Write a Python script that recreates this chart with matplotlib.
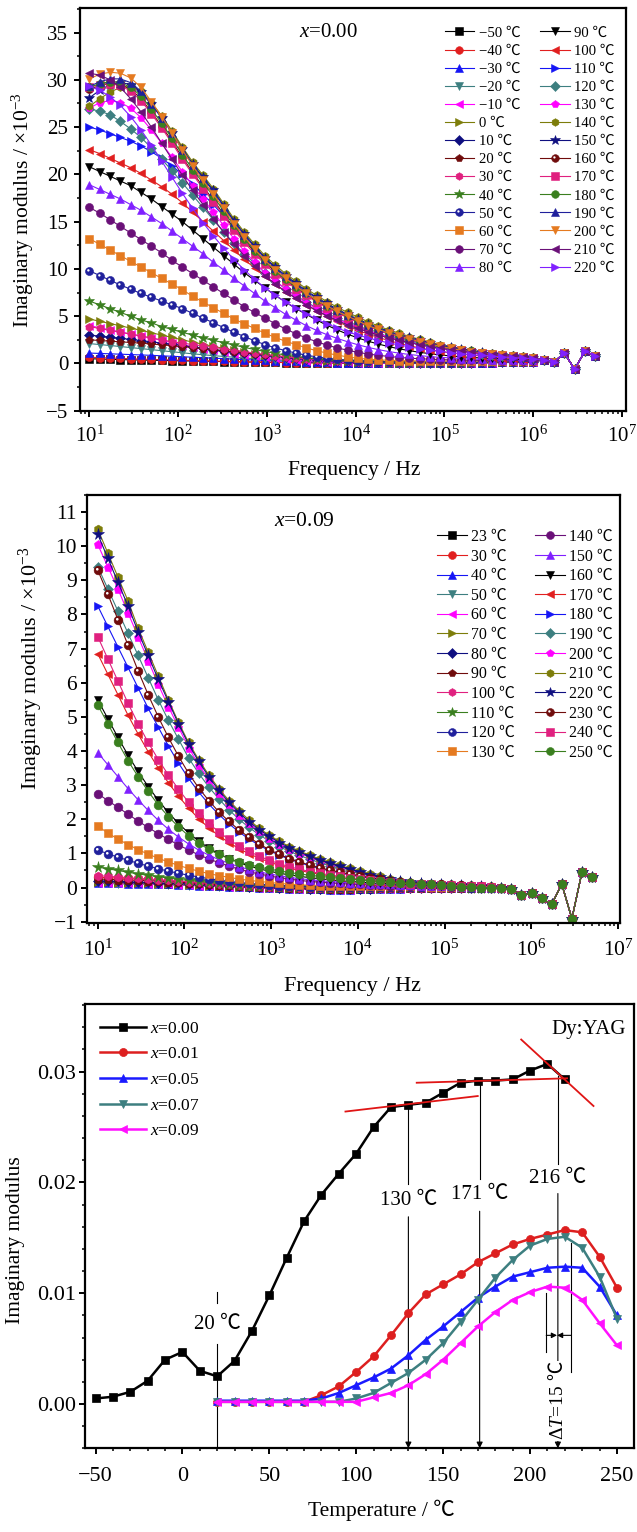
import numpy as np
import matplotlib
matplotlib.use('Agg')
import matplotlib.pyplot as plt
from matplotlib.path import Path
from matplotlib.ticker import MultipleLocator, FormatStrFormatter, FixedLocator, NullFormatter, LogFormatterSciNotation

plt.rcParams['font.family'] = ['Liberation Serif', 'Noto Sans CJK SC']
plt.rcParams['mathtext.fontset'] = 'custom'
plt.rcParams['mathtext.rm'] = 'Liberation Serif'
plt.rcParams['mathtext.it'] = 'Liberation Serif:italic'
plt.rcParams['axes.unicode_minus'] = True

# ---------------- data: frequency sweep ----------------
freq = [10.0, 13.07, 17.08, 22.33, 29.19, 38.15, 49.87, 65.18, 85.2, 111.4,
        145.6, 190.3, 248.7, 325.1, 424.9, 555.4, 726.0, 948.9, 1240, 1621,
        2119, 2770, 3621, 4733, 6186, 8086, 10570, 13820, 18060, 23600,
        30850, 40330, 52710, 68900, 90060, 117700, 153900, 201100, 262900, 343600,
        449200, 587100, 767400, 1003000, 1311000, 1714000, 2240000, 2928000, 3827000, 5000000]

# ---------------- panel 1: x=0.00 (values x10^-3) ----------------
temps1 = [-50, -40, -30, -20, -10, 0, 10, 20, 30, 40, 50, 60, 70, 80,
          90, 100, 110, 120, 130, 140, 150, 160, 170, 180, 190, 200, 210, 220]
tail1 = [0.4, 0.15, 1.1, -0.6, 1.3, 0.75]
p1_m50 = [0.5, 0.47, 0.44, 0.41, 0.38, 0.36, 0.34, 0.32, 0.3, 0.28, 0.26, 0.24, 0.22, 0.2, 0.18, 0.16, 0.14, 0.12, 0.11, 0.1, 0.09, 0.08, 0.07, 0.06, 0.05, 0.04, 0.03, 0.03, 0.02, 0.02, 0.02, 0.02, 0.02, 0.02, 0.02, 0.03, 0.04, 0.05, 0.07, 0.09, 0.11, 0.13, 0.15, 0.17]
p1_m40 = [0.66, 0.62, 0.58, 0.54, 0.5, 0.46, 0.43, 0.4, 0.37, 0.34, 0.31, 0.28, 0.25, 0.22, 0.2, 0.18, 0.16, 0.14, 0.12, 0.1, 0.09, 0.08, 0.07, 0.06, 0.05, 0.04, 0.03, 0.03, 0.02, 0.02, 0.02, 0.02, 0.02, 0.02, 0.02, 0.03, 0.04, 0.05, 0.07, 0.09, 0.11, 0.13, 0.15, 0.17]
p1_m30 = [1.1, 1.06, 1.02, 0.98, 0.94, 0.9, 0.86, 0.81, 0.76, 0.71, 0.66, 0.61, 0.56, 0.51, 0.46, 0.41, 0.36, 0.32, 0.28, 0.24, 0.21, 0.18, 0.15, 0.12, 0.1, 0.08, 0.06, 0.05, 0.04, 0.03, 0.02, 0.02, 0.02, 0.02, 0.02, 0.03, 0.04, 0.05, 0.07, 0.09, 0.11, 0.13, 0.15, 0.17]
p1_m20 = [2.1, 2.0, 1.9, 1.79, 1.68, 1.57, 1.46, 1.35, 1.24, 1.13, 1.02, 0.92, 0.83, 0.74, 0.66, 0.58, 0.51, 0.45, 0.39, 0.34, 0.29, 0.25, 0.21, 0.18, 0.15, 0.12, 0.1, 0.08, 0.07, 0.06, 0.05, 0.04, 0.04, 0.04, 0.04, 0.05, 0.06, 0.07, 0.08, 0.1, 0.12, 0.14, 0.16, 0.18]
p1_m10 = [4.0, 3.78, 3.56, 3.34, 3.12, 2.9, 2.67, 2.44, 2.21, 1.99, 1.78, 1.58, 1.39, 1.21, 1.04, 0.89, 0.76, 0.64, 0.53, 0.44, 0.36, 0.29, 0.23, 0.18, 0.14, 0.11, 0.09, 0.07, 0.06, 0.05, 0.04, 0.04, 0.04, 0.04, 0.04, 0.05, 0.06, 0.07, 0.08, 0.1, 0.12, 0.14, 0.16, 0.18]
p1_0 = [4.7, 4.46, 4.22, 3.98, 3.74, 3.5, 3.25, 3.0, 2.75, 2.5, 2.26, 2.03, 1.81, 1.6, 1.4, 1.22, 1.05, 0.9, 0.77, 0.65, 0.55, 0.46, 0.38, 0.31, 0.26, 0.21, 0.17, 0.14, 0.12, 0.1, 0.09, 0.08, 0.08, 0.08, 0.08, 0.08, 0.09, 0.1, 0.11, 0.12, 0.14, 0.16, 0.18, 0.2]
p1_10 = [3.0, 2.89, 2.78, 2.66, 2.54, 2.42, 2.29, 2.16, 2.03, 1.89, 1.75, 1.61, 1.47, 1.34, 1.21, 1.08, 0.96, 0.85, 0.74, 0.64, 0.55, 0.47, 0.4, 0.34, 0.28, 0.23, 0.19, 0.16, 0.13, 0.11, 0.1, 0.09, 0.08, 0.08, 0.08, 0.08, 0.09, 0.1, 0.11, 0.12, 0.14, 0.16, 0.18, 0.2]
p1_20 = [2.5, 2.43, 2.36, 2.29, 2.22, 2.14, 2.06, 1.97, 1.88, 1.78, 1.68, 1.57, 1.46, 1.35, 1.24, 1.13, 1.02, 0.91, 0.81, 0.72, 0.63, 0.55, 0.48, 0.42, 0.36, 0.31, 0.27, 0.23, 0.2, 0.18, 0.16, 0.14, 0.13, 0.12, 0.11, 0.11, 0.11, 0.12, 0.13, 0.14, 0.15, 0.17, 0.19, 0.2]
p1_30 = [3.9, 3.7, 3.5, 3.3, 3.1, 2.9, 2.7, 2.5, 2.3, 2.15, 2.0, 1.85, 1.7, 1.55, 1.4, 1.25, 1.1, 0.95, 0.82, 0.7, 0.59, 0.49, 0.4, 0.33, 0.27, 0.22, 0.18, 0.15, 0.12, 0.1, 0.09, 0.08, 0.08, 0.08, 0.08, 0.08, 0.09, 0.1, 0.11, 0.12, 0.14, 0.16, 0.18, 0.2]
p1_40 = [6.6, 6.2, 5.8, 5.4, 5.0, 4.6, 4.3, 3.9, 3.6, 3.3, 3.0, 2.7, 2.45, 2.2, 1.95, 1.7, 1.48, 1.27, 1.07, 0.89, 0.74, 0.6, 0.48, 0.38, 0.3, 0.24, 0.19, 0.15, 0.12, 0.1, 0.09, 0.08, 0.08, 0.08, 0.08, 0.09, 0.1, 0.11, 0.12, 0.14, 0.16, 0.18, 0.2, 0.22]
p1_50 = [9.8, 9.3, 8.8, 8.3, 7.85, 7.4, 7.0, 6.6, 6.2, 5.8, 5.3, 4.8, 4.3, 3.8, 3.3, 2.85, 2.4, 2.0, 1.65, 1.35, 1.1, 0.88, 0.7, 0.55, 0.43, 0.34, 0.27, 0.22, 0.18, 0.15, 0.13, 0.12, 0.11, 0.1, 0.1, 0.1, 0.11, 0.12, 0.13, 0.15, 0.17, 0.19, 0.21, 0.23]
p1_60 = [13.2, 12.6, 12.0, 11.4, 10.8, 10.2, 9.6, 9.0, 8.4, 7.8, 7.1, 6.5, 5.9, 5.3, 4.7, 4.2, 3.7, 3.2, 2.75, 2.35, 2.0, 1.65, 1.35, 1.1, 0.88, 0.7, 0.55, 0.45, 0.38, 0.33, 0.3, 0.28, 0.27, 0.26, 0.26, 0.26, 0.26, 0.27, 0.27, 0.28, 0.28, 0.29, 0.29, 0.3]
p1_70 = [16.5, 15.9, 15.2, 14.5, 13.8, 13.1, 12.4, 11.7, 10.9, 10.2, 9.5, 8.8, 8.1, 7.4, 6.7, 6.0, 5.4, 4.8, 4.2, 3.65, 3.15, 2.7, 2.3, 1.95, 1.65, 1.4, 1.18, 1.0, 0.86, 0.74, 0.64, 0.56, 0.5, 0.45, 0.41, 0.38, 0.36, 0.34, 0.33, 0.32, 0.31, 0.3, 0.3, 0.3]
p1_80 = [18.9, 18.4, 17.9, 17.4, 16.8, 16.2, 15.5, 14.8, 14.0, 13.2, 12.4, 11.6, 10.7, 9.9, 9.0, 8.2, 7.4, 6.6, 5.9, 5.2, 4.6, 4.0, 3.5, 3.05, 2.65, 2.3, 1.98, 1.7, 1.46, 1.26, 1.09, 0.95, 0.83, 0.73, 0.65, 0.58, 0.52, 0.47, 0.43, 0.4, 0.38, 0.36, 0.34, 0.33]
p1_90 = [20.8, 20.3, 19.8, 19.3, 18.8, 18.1, 17.4, 16.6, 15.8, 15.0, 14.1, 13.2, 12.3, 11.4, 10.5, 9.6, 8.8, 8.0, 7.2, 6.5, 5.8, 5.2, 4.6, 4.05, 3.55, 3.1, 2.7, 2.35, 2.05, 1.78, 1.55, 1.35, 1.18, 1.03, 0.9, 0.8, 0.71, 0.64, 0.58, 0.53, 0.49, 0.45, 0.42, 0.39]
p1_100 = [22.6, 22.2, 21.7, 21.2, 20.7, 20.1, 19.4, 18.7, 17.9, 17.0, 16.0, 15.0, 14.0, 13.0, 12.0, 11.0, 10.1, 9.2, 8.4, 7.6, 6.9, 6.2, 5.6, 5.0, 4.45, 3.95, 3.5, 3.1, 2.75, 2.42, 2.12, 1.87, 1.65, 1.45, 1.27, 1.12, 0.99, 0.88, 0.78, 0.7, 0.63, 0.56, 0.5, 0.44]
p1_110 = [25.0, 24.7, 24.3, 23.9, 23.5, 23.0, 22.4, 21.7, 20.9, 20.0, 19.0, 17.9, 16.8, 15.6, 14.4, 13.2, 12.0, 10.9, 9.9, 9.0, 8.2, 7.4, 6.7, 6.05, 5.45, 4.9, 4.4, 3.95, 3.5, 3.1, 2.75, 2.45, 2.15, 1.9, 1.68, 1.48, 1.3, 1.15, 1.02, 0.9, 0.8, 0.71, 0.62, 0.54]
p1_120 = [26.9, 26.7, 26.3, 25.6, 24.8, 23.9, 22.8, 21.6, 20.4, 19.1, 17.8, 16.5, 15.2, 13.9, 12.7, 11.6, 10.6, 9.6, 8.7, 7.9, 7.2, 6.5, 5.9, 5.3, 4.8, 4.3, 3.9, 3.5, 3.15, 2.85, 2.55, 2.3, 2.05, 1.85, 1.65, 1.47, 1.31, 1.17, 1.04, 0.93, 0.83, 0.74, 0.65, 0.56]
p1_130 = [27.0, 27.6, 27.8, 27.6, 27.0, 26.0, 24.7, 23.3, 21.8, 20.3, 18.8, 17.4, 16.0, 14.6, 13.2, 11.9, 10.7, 9.6, 8.7, 7.9, 7.1, 6.4, 5.8, 5.2, 4.7, 4.25, 3.85, 3.45, 3.1, 2.8, 2.5, 2.25, 2.0, 1.8, 1.6, 1.42, 1.27, 1.13, 1.0, 0.9, 0.8, 0.7, 0.62, 0.54]
p1_140 = [27.2, 28.0, 28.7, 29.2, 29.3, 28.8, 27.6, 26.2, 24.6, 22.9, 21.3, 19.9, 18.5, 16.9, 15.3, 13.9, 12.6, 11.4, 10.4, 9.5, 8.7, 7.9, 7.2, 6.55, 5.95, 5.4, 4.9, 4.4, 3.95, 3.55, 3.2, 2.85, 2.55, 2.25, 2.0, 1.78, 1.58, 1.4, 1.25, 1.1, 0.98, 0.86, 0.75, 0.65]
p1_150 = [28.1, 28.9, 29.5, 29.7, 29.5, 28.7, 27.4, 26.0, 24.4, 22.7, 21.1, 19.7, 18.3, 16.7, 15.1, 13.7, 12.4, 11.2, 10.2, 9.3, 8.5, 7.7, 7.0, 6.35, 5.75, 5.2, 4.7, 4.2, 3.8, 3.4, 3.05, 2.75, 2.45, 2.15, 1.9, 1.7, 1.5, 1.32, 1.17, 1.03, 0.92, 0.82, 0.72, 0.62]
p1_160 = [29.0, 29.4, 29.6, 29.5, 29.0, 28.0, 26.6, 25.1, 23.5, 21.8, 20.2, 18.7, 17.3, 15.8, 14.3, 13.0, 11.8, 10.7, 9.7, 8.8, 8.0, 7.3, 6.6, 6.0, 5.4, 4.9, 4.4, 3.95, 3.55, 3.2, 2.85, 2.55, 2.3, 2.05, 1.8, 1.6, 1.42, 1.26, 1.12, 0.98, 0.88, 0.78, 0.68, 0.58]
p1_170 = [29.2, 29.5, 29.6, 29.4, 28.8, 27.8, 26.4, 24.9, 23.3, 21.6, 20.0, 18.5, 17.1, 15.6, 14.1, 12.8, 11.6, 10.5, 9.5, 8.7, 7.9, 7.2, 6.5, 5.9, 5.35, 4.85, 4.35, 3.9, 3.5, 3.15, 2.8, 2.5, 2.25, 2.0, 1.78, 1.58, 1.4, 1.25, 1.1, 0.97, 0.87, 0.77, 0.67, 0.57]
p1_180 = [29.2, 29.6, 29.8, 29.7, 29.2, 28.3, 26.9, 25.4, 23.8, 22.1, 20.5, 19.1, 17.7, 16.1, 14.6, 13.2, 11.9, 10.8, 9.8, 8.9, 8.1, 7.4, 6.7, 6.1, 5.5, 5.0, 4.5, 4.05, 3.65, 3.25, 2.9, 2.6, 2.3, 2.05, 1.82, 1.62, 1.43, 1.28, 1.13, 0.99, 0.88, 0.78, 0.68, 0.58]
p1_190 = [29.3, 29.8, 30.1, 30.1, 29.7, 28.8, 27.4, 26.0, 24.4, 22.6, 21.0, 19.6, 18.2, 16.6, 15.0, 13.6, 12.3, 11.1, 10.1, 9.2, 8.4, 7.6, 6.9, 6.25, 5.65, 5.1, 4.6, 4.1, 3.7, 3.3, 2.95, 2.65, 2.35, 2.1, 1.85, 1.65, 1.45, 1.3, 1.15, 1.0, 0.9, 0.8, 0.7, 0.6]
p1_200 = [30.1, 30.6, 30.8, 30.7, 30.2, 29.2, 27.7, 26.1, 24.4, 22.6, 20.9, 19.4, 17.9, 16.4, 14.8, 13.4, 12.1, 10.9, 9.9, 9.0, 8.2, 7.4, 6.7, 6.1, 5.5, 5.0, 4.5, 4.0, 3.6, 3.2, 2.9, 2.6, 2.3, 2.05, 1.8, 1.6, 1.4, 1.25, 1.1, 0.95, 0.85, 0.75, 0.65, 0.55]
p1_210 = [30.7, 30.5, 30.0, 29.2, 28.0, 26.6, 25.0, 23.3, 21.6, 19.9, 18.3, 16.8, 15.3, 13.9, 12.6, 11.4, 10.3, 9.3, 8.4, 7.6, 6.9, 6.2, 5.6, 5.05, 4.55, 4.1, 3.7, 3.35, 3.0, 2.7, 2.45, 2.2, 1.98, 1.78, 1.6, 1.44, 1.3, 1.17, 1.05, 0.94, 0.84, 0.75, 0.66, 0.57]
p1_220 = [29.3, 28.9, 28.2, 27.3, 26.1, 24.7, 23.1, 21.4, 19.7, 18.0, 16.4, 14.9, 13.5, 12.2, 11.0, 9.9, 8.9, 8.0, 7.2, 6.5, 5.85, 5.25, 4.7, 4.2, 3.75, 3.35, 3.0, 2.7, 2.42, 2.17, 1.95, 1.75, 1.57, 1.41, 1.27, 1.15, 1.04, 0.94, 0.85, 0.77, 0.7, 0.63, 0.56, 0.5]

heads1 = [p1_m50, p1_m40, p1_m30, p1_m20, p1_m10, p1_0, p1_10, p1_20, p1_30, p1_40, p1_50,
          p1_60, p1_70, p1_80, p1_90, p1_100, p1_110, p1_120, p1_130, p1_140, p1_150,
          p1_160, p1_170, p1_180, p1_190, p1_200, p1_210, p1_220]

# ---------------- panel 2: x=0.09 (values x10^-3) ----------------
temps2 = [23, 30, 40, 50, 60, 70, 80, 90, 100, 110, 120, 130,
          140, 150, 160, 170, 180, 190, 200, 210, 220, 230, 240, 250]
tail2 = [0.0, -0.05, -0.22, -0.17, -0.32, -0.49, 0.1, -0.91, 0.45, 0.3]
p2_23 = [0.16, 0.16, 0.15, 0.15, 0.14, 0.13, 0.12, 0.11, 0.1, 0.09, 0.08, 0.07, 0.06, 0.05, 0.04, 0.03, 0.02, 0.01, 0.0, -0.01, -0.02, -0.03, -0.03, -0.04, -0.04, -0.04, -0.03, -0.03, -0.02, -0.02, -0.01, -0.01, 0.0, 0.0, 0.0, 0.0, 0.0, -0.01, -0.01, -0.02]
p2_30 = [0.3, 0.29, 0.28, 0.27, 0.25, 0.24, 0.22, 0.2, 0.18, 0.16, 0.14, 0.12, 0.1, 0.08, 0.06, 0.05, 0.03, 0.02, 0.01, 0.0, -0.01, -0.02, -0.02, -0.03, -0.03, -0.03, -0.02, -0.02, -0.01, -0.01, 0.0, 0.0, 0.0, 0.0, 0.0, 0.0, 0.0, -0.01, -0.01, -0.02]
p2_40 = [0.12, 0.12, 0.12, 0.11, 0.11, 0.1, 0.1, 0.09, 0.08, 0.07, 0.06, 0.05, 0.04, 0.03, 0.02, 0.01, 0.0, -0.01, -0.02, -0.03, -0.04, -0.05, -0.05, -0.06, -0.06, -0.06, -0.05, -0.05, -0.04, -0.04, -0.03, -0.02, -0.02, -0.01, -0.01, 0.0, 0.0, -0.01, -0.01, -0.02]
p2_50 = [0.12, 0.12, 0.11, 0.11, 0.1, 0.1, 0.09, 0.08, 0.07, 0.06, 0.05, 0.04, 0.03, 0.02, 0.01, 0.0, -0.01, -0.02, -0.03, -0.04, -0.05, -0.06, -0.06, -0.07, -0.07, -0.07, -0.06, -0.06, -0.05, -0.04, -0.03, -0.03, -0.02, -0.01, -0.01, 0.0, 0.0, -0.01, -0.01, -0.02]
p2_60 = [0.14, 0.14, 0.13, 0.13, 0.12, 0.11, 0.1, 0.09, 0.08, 0.07, 0.06, 0.05, 0.04, 0.03, 0.02, 0.01, 0.0, -0.01, -0.02, -0.03, -0.04, -0.05, -0.05, -0.06, -0.06, -0.06, -0.05, -0.05, -0.04, -0.04, -0.03, -0.02, -0.02, -0.01, -0.01, 0.0, 0.0, -0.01, -0.01, -0.02]
p2_70 = [0.15, 0.15, 0.14, 0.14, 0.13, 0.12, 0.11, 0.1, 0.09, 0.08, 0.07, 0.06, 0.05, 0.04, 0.03, 0.02, 0.01, 0.0, -0.01, -0.02, -0.03, -0.04, -0.04, -0.05, -0.05, -0.05, -0.04, -0.04, -0.03, -0.03, -0.02, -0.02, -0.01, -0.01, 0.0, 0.0, 0.0, -0.01, -0.01, -0.02]
p2_80 = [0.2, 0.19, 0.18, 0.17, 0.16, 0.15, 0.14, 0.13, 0.12, 0.11, 0.1, 0.08, 0.07, 0.06, 0.04, 0.03, 0.02, 0.01, 0.0, -0.01, -0.02, -0.03, -0.03, -0.04, -0.04, -0.04, -0.03, -0.03, -0.02, -0.02, -0.01, -0.01, -0.01, 0.0, 0.0, 0.0, 0.0, -0.01, -0.01, -0.02]
p2_90 = [0.25, 0.24, 0.23, 0.22, 0.21, 0.2, 0.19, 0.17, 0.16, 0.14, 0.12, 0.1, 0.08, 0.07, 0.05, 0.04, 0.03, 0.02, 0.01, 0.0, -0.01, -0.02, -0.02, -0.03, -0.03, -0.03, -0.02, -0.02, -0.01, -0.01, 0.0, 0.0, 0.0, 0.0, 0.0, 0.0, 0.0, -0.01, -0.01, -0.02]
p2_100 = [0.35, 0.33, 0.31, 0.29, 0.27, 0.25, 0.23, 0.21, 0.19, 0.17, 0.15, 0.13, 0.11, 0.09, 0.07, 0.05, 0.04, 0.03, 0.02, 0.01, 0.0, -0.01, -0.01, -0.02, -0.02, -0.02, -0.01, -0.01, 0.0, 0.0, 0.0, 0.0, 0.0, 0.0, 0.0, 0.0, 0.0, -0.01, -0.01, -0.02]
p2_110 = [0.6, 0.55, 0.5, 0.45, 0.4, 0.36, 0.32, 0.28, 0.24, 0.21, 0.18, 0.15, 0.12, 0.1, 0.08, 0.06, 0.05, 0.04, 0.03, 0.02, 0.01, 0.01, 0.0, 0.0, 0.0, 0.0, 0.0, 0.0, 0.01, 0.01, 0.01, 0.01, 0.01, 0.01, 0.01, 0.01, 0.01, 0.0, 0.0, -0.01]
p2_120 = [1.1, 0.99, 0.89, 0.8, 0.71, 0.63, 0.55, 0.48, 0.42, 0.36, 0.31, 0.26, 0.22, 0.18, 0.15, 0.12, 0.1, 0.08, 0.06, 0.05, 0.04, 0.03, 0.02, 0.02, 0.02, 0.02, 0.02, 0.02, 0.02, 0.02, 0.02, 0.02, 0.02, 0.02, 0.02, 0.01, 0.01, 0.0, -0.01, -0.01]
p2_130 = [1.8, 1.6, 1.42, 1.26, 1.11, 0.98, 0.86, 0.75, 0.65, 0.56, 0.48, 0.41, 0.35, 0.3, 0.25, 0.21, 0.18, 0.15, 0.12, 0.1, 0.08, 0.07, 0.06, 0.05, 0.04, 0.04, 0.04, 0.04, 0.04, 0.04, 0.04, 0.04, 0.04, 0.03, 0.03, 0.03, 0.02, 0.02, 0.01, 0.0]
p2_140 = [2.75, 2.55, 2.35, 2.15, 1.95, 1.76, 1.58, 1.41, 1.25, 1.1, 0.96, 0.84, 0.73, 0.63, 0.54, 0.46, 0.4, 0.34, 0.29, 0.25, 0.21, 0.18, 0.16, 0.14, 0.12, 0.1, 0.09, 0.08, 0.07, 0.06, 0.06, 0.05, 0.05, 0.04, 0.04, 0.03, 0.02, 0.02, 0.01, 0.0]
p2_150 = [3.95, 3.6, 3.25, 2.9, 2.57, 2.26, 1.97, 1.71, 1.48, 1.28, 1.1, 0.95, 0.82, 0.71, 0.61, 0.53, 0.46, 0.4, 0.35, 0.3, 0.26, 0.23, 0.2, 0.18, 0.16, 0.14, 0.12, 0.11, 0.1, 0.09, 0.08, 0.07, 0.06, 0.05, 0.05, 0.04, 0.03, 0.02, 0.01, 0.0]
p2_160 = [5.5, 4.95, 4.4, 3.88, 3.4, 2.96, 2.56, 2.2, 1.88, 1.6, 1.36, 1.16, 0.99, 0.85, 0.73, 0.63, 0.55, 0.48, 0.42, 0.37, 0.33, 0.29, 0.26, 0.23, 0.2, 0.18, 0.16, 0.14, 0.12, 0.11, 0.1, 0.09, 0.08, 0.07, 0.06, 0.05, 0.04, 0.03, 0.02, 0.0]
p2_170 = [6.85, 6.25, 5.65, 5.05, 4.5, 3.98, 3.5, 3.07, 2.68, 2.33, 2.02, 1.75, 1.52, 1.32, 1.14, 0.99, 0.86, 0.75, 0.65, 0.57, 0.5, 0.44, 0.39, 0.34, 0.3, 0.26, 0.23, 0.2, 0.17, 0.15, 0.12, 0.1, 0.09, 0.08, 0.07, 0.06, 0.05, 0.05, 0.04, 0.02]
p2_180 = [8.25, 7.65, 7.05, 6.45, 5.85, 5.25, 4.7, 4.15, 3.65, 3.2, 2.8, 2.45, 2.14, 1.87, 1.63, 1.42, 1.24, 1.08, 0.95, 0.83, 0.73, 0.64, 0.56, 0.49, 0.43, 0.37, 0.32, 0.27, 0.23, 0.19, 0.15, 0.12, 0.1, 0.09, 0.08, 0.07, 0.06, 0.05, 0.04, 0.02]
p2_190 = [9.4, 8.75, 8.1, 7.45, 6.8, 6.15, 5.5, 4.9, 4.35, 3.8, 3.35, 2.95, 2.6, 2.28, 2.0, 1.76, 1.55, 1.36, 1.2, 1.06, 0.94, 0.83, 0.73, 0.64, 0.56, 0.48, 0.41, 0.34, 0.28, 0.23, 0.18, 0.14, 0.11, 0.1, 0.09, 0.08, 0.07, 0.06, 0.05, 0.03]
p2_200 = [10.05, 9.4, 8.75, 8.05, 7.35, 6.65, 5.95, 5.3, 4.7, 4.1, 3.6, 3.17, 2.78, 2.44, 2.14, 1.88, 1.65, 1.45, 1.28, 1.13, 1.0, 0.89, 0.78, 0.69, 0.6, 0.52, 0.44, 0.37, 0.3, 0.24, 0.19, 0.15, 0.12, 0.1, 0.09, 0.08, 0.07, 0.06, 0.05, 0.03]
p2_210 = [10.5, 9.8, 9.1, 8.4, 7.6, 6.9, 6.2, 5.5, 4.85, 4.25, 3.75, 3.3, 2.9, 2.55, 2.25, 1.98, 1.74, 1.53, 1.36, 1.2, 1.07, 0.95, 0.84, 0.74, 0.65, 0.56, 0.48, 0.4, 0.33, 0.26, 0.2, 0.16, 0.13, 0.11, 0.1, 0.09, 0.08, 0.07, 0.06, 0.04]
p2_220 = [10.35, 9.65, 8.95, 8.25, 7.5, 6.8, 6.1, 5.45, 4.8, 4.2, 3.7, 3.25, 2.85, 2.5, 2.2, 1.93, 1.7, 1.5, 1.32, 1.17, 1.04, 0.92, 0.81, 0.71, 0.62, 0.54, 0.46, 0.38, 0.31, 0.25, 0.19, 0.15, 0.12, 0.1, 0.09, 0.08, 0.07, 0.06, 0.05, 0.03]
p2_230 = [9.3, 8.6, 7.85, 7.1, 6.35, 5.65, 5.0, 4.4, 3.85, 3.35, 2.92, 2.55, 2.22, 1.94, 1.69, 1.47, 1.28, 1.11, 0.97, 0.85, 0.75, 0.66, 0.58, 0.51, 0.45, 0.39, 0.34, 0.29, 0.24, 0.2, 0.16, 0.13, 0.11, 0.1, 0.09, 0.08, 0.07, 0.06, 0.05, 0.03]
p2_240 = [7.35, 6.7, 6.05, 5.4, 4.8, 4.25, 3.75, 3.3, 2.88, 2.5, 2.17, 1.88, 1.63, 1.41, 1.22, 1.06, 0.92, 0.8, 0.7, 0.61, 0.54, 0.47, 0.42, 0.37, 0.33, 0.29, 0.25, 0.22, 0.19, 0.16, 0.13, 0.11, 0.1, 0.09, 0.08, 0.07, 0.06, 0.05, 0.04, 0.02]
p2_250 = [5.35, 4.8, 4.25, 3.72, 3.25, 2.82, 2.42, 2.08, 1.78, 1.52, 1.3, 1.12, 0.97, 0.85, 0.75, 0.67, 0.6, 0.54, 0.49, 0.44, 0.4, 0.36, 0.33, 0.3, 0.27, 0.25, 0.22, 0.2, 0.18, 0.16, 0.14, 0.12, 0.1, 0.09, 0.07, 0.05, 0.03, 0.02, 0.0, -0.02]

heads2 = [p2_23, p2_30, p2_40, p2_50, p2_60, p2_70, p2_80, p2_90, p2_100, p2_110, p2_120, p2_130,
          p2_140, p2_150, p2_160, p2_170, p2_180, p2_190, p2_200, p2_210, p2_220, p2_230, p2_240, p2_250]

# ---------------- panel 3: M'' vs temperature ----------------
temp_a = [-50, -40, -30, -20, -10, 0, 10, 20, 30, 40, 50, 60, 70, 80,
          90, 100, 110, 120, 130, 140, 150, 160, 170, 180, 190, 200, 210, 220]
m_x000 = [0.0005, 0.00066, 0.0011, 0.0021, 0.0040, 0.0047, 0.0030, 0.0025, 0.0039, 0.0066,
          0.0098, 0.0132, 0.0165, 0.0189, 0.0208, 0.0226, 0.0250, 0.0268, 0.0270, 0.0272,
          0.0281, 0.0290, 0.0292, 0.0292, 0.0293, 0.0301, 0.0307, 0.0293]
temp_b = [20, 30, 40, 50, 60, 70, 80, 90, 100, 110, 120, 130,
          140, 150, 160, 170, 180, 190, 200, 210, 220, 230, 240, 250]
m_x001 = [0.0002, 0.0002, 0.0002, 0.0002, 0.0002, 0.0002, 0.0008, 0.0016, 0.0029, 0.0043, 0.0062, 0.0082,
          0.0099, 0.0108, 0.0117, 0.0128, 0.0136, 0.0144, 0.0149, 0.0153, 0.0157, 0.0155, 0.0133, 0.0105]
m_x005 = [0.0003, 0.0003, 0.0003, 0.0003, 0.0003, 0.0003, 0.0005, 0.0010, 0.0017, 0.0024, 0.0032, 0.0044,
          0.0058, 0.0070, 0.0083, 0.0096, 0.0106, 0.0115, 0.0119, 0.0123, 0.0124, 0.0123, 0.0106, 0.0080]
m_x007 = [0.0002, 0.0002, 0.0002, 0.0002, 0.0002, 0.0002, 0.0002, 0.0002, 0.0005, 0.0010, 0.0019, 0.0028,
          0.0040, 0.0055, 0.0074, 0.0094, 0.0114, 0.0130, 0.0143, 0.0149, 0.0151, 0.0141, 0.0115, 0.0077]
m_x009 = [0.0002, 0.0002, 0.0002, 0.0002, 0.0002, 0.0002, 0.0002, 0.0002, 0.0002, 0.0006, 0.0010, 0.0017,
          0.0027, 0.0040, 0.0055, 0.0070, 0.0083, 0.0094, 0.0101, 0.0106, 0.0105, 0.0094, 0.0073, 0.0053]
x_labels3 = ['0.00', '0.01', '0.05', '0.07', '0.09']

# annotation values (panel 3)
mark_T = [20, 130, 171, 216]
mark_top = [0.0101, 0.0270, 0.0291, 0.0296]
mark_text_y = [0.0072, 0.0184, 0.0189, 0.0204]
mark_gap = [(0.0091, 0.0054), (0.0199, 0.0169), (0.0203, 0.0174), (0.0217, 0.0190)]
mark_arrow = [False, True, True, True]
tan_x = [(93.8, 169.9), (134.8, 221.3), (194.9, 236.5)]
tan_y = [(0.0264, 0.0278), (0.0290, 0.0294), (0.0329, 0.0269)]
dT_lo, dT_hi, dT_mid = 209.3, 223.7, 215.5
dT_left_y = (0.0100, 0.0047)
dT_right_y = (0.0145, 0.0029)
dT_arrow_y = 0.0062

# ---------------- styles ----------------
colors14 = ['#000000', '#e11f1f', '#1515f5', '#3d7f80', '#ff00ff', '#7d7d0a', '#0f0f80',
            '#700c0c', '#e0207f', '#3a7f1f', '#20209c', '#e57a20', '#6a1078', '#8020ff']
markers11 = ['s', 'o', '^', 'v', '<', '>', 'D', 'p', 'h', '*', 'sphere']

_verts = [(-1, -1), (1, 1)]
_codes = [Path.MOVETO, Path.MOVETO]
_circ = Path.circle(center=(-0.28, 0.28), radius=0.3)
hl_path = Path(np.vstack([_verts, _circ.vertices]), _codes + list(_circ.codes))


def fmt_temp(t):
    s = str(t).replace('-', '\u2212')
    return s + ' \u2103'


def draw_freq_panel(ax, temps, series, ms):
    handles = []
    for i, (t, y) in enumerate(zip(temps, series)):
        c = colors14[i % 14]
        mk = markers11[i % 11]
        sz = ms
        real_mk = mk
        if mk == 'sphere':
            real_mk = 'o'
        if mk == '*':
            sz = ms * 1.35
        if mk in ('D',):
            sz = ms * 0.85
        ln, = ax.plot(freq, y, color=c, lw=0.8, marker=real_mk, ms=sz,
                      mfc=c, mec=c, mew=0.4, label=fmt_temp(t))
        if mk == 'sphere':
            hl, = ax.plot(freq, y, ls='none', marker=hl_path, ms=sz,
                          mfc='white', mec='none')
            handles.append((ln, hl))
        else:
            handles.append(ln)
    return handles


def style_axes(ax, spine_w=1.6):
    for s in ax.spines.values():
        s.set_linewidth(spine_w)
    ax.tick_params(which='both', direction='out', top=False, right=False)
    ax.tick_params(which='major', length=4.5, width=1.4)
    ax.tick_params(which='minor', length=2.5, width=1.1)


def log_ticks(ax, lo, hi):
    majors = [10.0 ** e for e in range(1, 8)]
    minors = [m * 10.0 ** e for e in range(0, 7) for m in range(2, 10)]
    minors = [v for v in minors if lo < v < hi]
    ax.xaxis.set_major_locator(FixedLocator(majors))
    ax.xaxis.set_major_formatter(LogFormatterSciNotation())
    ax.xaxis.set_minor_locator(FixedLocator(minors))
    ax.xaxis.set_minor_formatter(NullFormatter())


fig = plt.figure(figsize=(6.37, 15.32), dpi=100)

# ---------- panel 1 ----------
ax1 = fig.add_axes([0.1256, 0.7314, 0.8571, 0.2634])
series1 = [h + tail1 for h in heads1]
hs1 = draw_freq_panel(ax1, temps1, series1, 5.8)
ax1.set_xscale('log')
ax1.set_xlim(7.83, 1.11e7)
ax1.set_ylim(-5.08, 37.6)
ax1.yaxis.set_major_locator(MultipleLocator(5))
ax1.yaxis.set_minor_locator(MultipleLocator(2.5))
log_ticks(ax1, 7.83, 1.11e7)
style_axes(ax1)
ax1.tick_params(axis='y', labelsize=15, pad=4)
ax1.tick_params(axis='x', labelsize=15, pad=6)
ax1.set_xlabel('Frequency / Hz', fontsize=15.5)
ax1.xaxis.set_label_coords(0.503, -0.145)
ax1.xaxis.label.set_va('center')
ax1.set_ylabel('Imaginary modulus / \u00d710$^{\u22123}$', fontsize=15.5)
ax1.yaxis.set_label_coords(-0.105, 0.5)
ax1.yaxis.label.set_va('center')
ax1.text(0.456, 0.938, '$x$=0.00', transform=ax1.transAxes, ha='center', va='center', fontsize=15)
ax1.legend(handles=hs1, labels=[fmt_temp(t) for t in temps1], ncol=2, loc='upper left',
           bbox_to_anchor=(0.668, 0.9546), frameon=False, fontsize=10.6,
           borderpad=0, borderaxespad=0, handlelength=2.0, handletextpad=0.3,
           columnspacing=1.35, labelspacing=0.325, markerscale=0.95)

# ---------- panel 2 ----------
ax2 = fig.add_axes([0.1372, 0.3977, 0.8361, 0.2792])
series2 = [h + tail2 for h in heads2]
hs2 = draw_freq_panel(ax2, temps2, series2, 6.3)
ax2.set_xscale('log')
ax2.set_xlim(7.6, 1.05e7)
ax2.set_ylim(-1.03, 11.5)
ax2.yaxis.set_major_locator(MultipleLocator(1))
ax2.yaxis.set_minor_locator(MultipleLocator(0.5))
log_ticks(ax2, 7.6, 1.05e7)
style_axes(ax2)
ax2.tick_params(axis='y', labelsize=15.5, pad=3)
ax2.tick_params(axis='x', labelsize=15.5, pad=8)
ax2.set_xlabel('Frequency / Hz', fontsize=16)
ax2.xaxis.set_label_coords(0.498, -0.148)
ax2.xaxis.label.set_va('center')
ax2.set_ylabel('Imaginary modulus / \u00d710$^{\u22123}$', fontsize=16)
ax2.yaxis.set_label_coords(-0.1070, 0.5955)
ax2.yaxis.label.set_va('center')
ax2.text(0.408, 0.9376, '$x$=0.09', transform=ax2.transAxes, ha='center', va='center', fontsize=15.5)
ax2.legend(handles=hs2, labels=[fmt_temp(t) for t in temps2], ncol=2, loc='upper left',
           bbox_to_anchor=(0.656, 0.921), frameon=False, fontsize=11.4,
           borderpad=0, borderaxespad=0, handlelength=1.9, handletextpad=0.25,
           columnspacing=1.3, labelspacing=0.23, markerscale=0.9)

# ---------- panel 3 ----------
ax3 = fig.add_axes([0.1341, 0.0546, 0.8612, 0.2900])
c3 = ['#000000', '#dd1f1f', '#1a1aff', '#3d7f80', '#ff10ff']
mk3 = ['s', 'o', '^', 'v', '<']
xs3 = [temp_a, temp_b, temp_b, temp_b, temp_b]
ys3 = [m_x000, m_x001, m_x005, m_x007, m_x009]
for i in range(5):
    ax3.plot(xs3[i], ys3[i], color=c3[i], lw=1.8, marker=mk3[i], ms=5.8,
             mfc=c3[i], mec=c3[i], mew=0.5, label='$x$=' + x_labels3[i], zorder=3 + i * 0.01)
ax3.set_xlim(-55.8, 259.8)
ax3.set_ylim(-0.0040, 0.0361)
ax3.xaxis.set_major_locator(MultipleLocator(50))
ax3.xaxis.set_minor_locator(MultipleLocator(10))
ax3.yaxis.set_major_locator(MultipleLocator(0.01))
ax3.yaxis.set_minor_locator(MultipleLocator(0.002))
ax3.yaxis.set_major_formatter(FormatStrFormatter('%.2f'))
style_axes(ax3)
ax3.tick_params(axis='y', labelsize=16, pad=2)
ax3.tick_params(axis='x', labelsize=16, pad=9)
ax3.set_xlabel('Temperature / \u2103', fontsize=15.5)
ax3.xaxis.set_label_coords(0.539, -0.139)
ax3.xaxis.label.set_va('center')
ax3.set_ylabel('Imaginary modulus', fontsize=15.5)
ax3.yaxis.set_label_coords(-0.128, 0.469)
ax3.yaxis.label.set_va('center')
ax3.legend(loc='upper left', bbox_to_anchor=(0.0259, 0.963), frameon=False, fontsize=12.5,
           borderpad=0, borderaxespad=0, handlelength=2.65, handletextpad=0.25, labelspacing=0.55)
ax3.text(255, 0.0338, 'Dy:YAG', ha='right', va='center', fontsize=15)

# red tangent lines
for tx, ty in zip(tan_x, tan_y):
    ax3.plot(tx, ty, color='#e01515', lw=1.3, zorder=6)

# marker lines with temperature labels
ybot = ax3.get_ylim()[0]
for xv, top, ty, (g1, g2), arr in zip(mark_T, mark_top, mark_text_y, mark_gap, mark_arrow):
    ax3.plot([xv, xv], [top, g1], color='k', lw=0.8, zorder=2)
    if arr:
        ax3.annotate('', xy=(xv, ybot), xytext=(xv, g2),
                     arrowprops=dict(arrowstyle='-|>', lw=0.8, color='k', mutation_scale=9,
                                     shrinkA=0, shrinkB=0), zorder=2)
    else:
        ax3.plot([xv, xv], [g2, ybot], color='k', lw=0.8, zorder=2)
    ax3.text(xv, ty, '%d \u2103' % xv, ha='center', va='center', fontsize=15)

# delta T annotation
ax3.plot([dT_lo, dT_lo], dT_left_y, color='k', lw=0.8, zorder=2)
ax3.plot([dT_hi, dT_hi], dT_right_y, color='k', lw=0.8, zorder=2)
for x0 in (dT_lo, dT_hi):
    ax3.annotate('', xy=(dT_mid, dT_arrow_y), xytext=(x0, dT_arrow_y),
                 arrowprops=dict(arrowstyle='-|>', lw=0.8, color='k', mutation_scale=8,
                                 shrinkA=0, shrinkB=0), zorder=7)
t_dt = ax3.text(dT_mid + 1, -0.0008, '\u0394$T$=15', rotation=90, ha='center', va='center',
                fontsize=14, zorder=8, bbox=dict(facecolor='white', edgecolor='none', pad=0.3))
ax3.annotate(' \u2103', xy=(0.5, 1.0), xycoords=t_dt, rotation=90, ha='center', va='bottom',
             fontsize=14, zorder=8, bbox=dict(facecolor='white', edgecolor='none', pad=0.3))

fig.savefig('out.png', dpi=100)
